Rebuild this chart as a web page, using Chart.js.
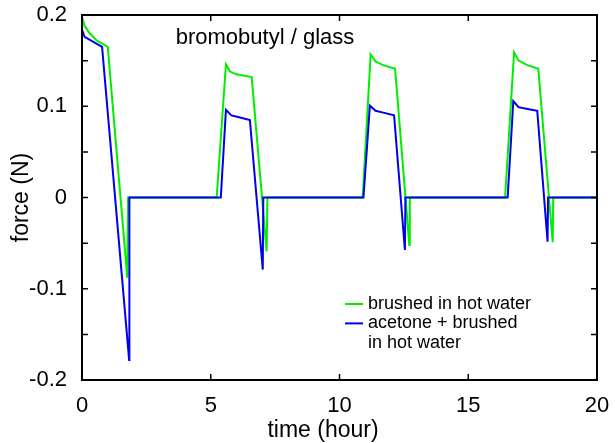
<!DOCTYPE html>
<html>
<head>
<meta charset="utf-8">
<script src="https://cdn.jsdelivr.net/npm/chart.js@4.4.1/dist/chart.umd.min.js"></script>
<style>
    body { margin: 0; background: #fff; }
    #forceChart { display: block; }
</style>
</head>
<body>
<canvas id="forceChart" width="615" height="443"></canvas>
<script>
// Data (time in hours, force in N)
var timeGreen = [0, 0.1, 0.3, 0.57, 1.0, 1.76, 1.79, 5.23, 5.59, 5.75, 6.0, 6.59, 7.17, 7.2,
    10.9, 11.21, 11.4, 11.7, 12.16, 12.71, 12.73, 16.43, 16.78, 16.95, 17.3, 17.72, 18.28, 18.3, 20];
var forceGreen = [0.198, 0.188, 0.18, 0.172, 0.165, -0.088, 0, 0, 0.146, 0.138, 0.135, 0.132, -0.059, 0,
    0, 0.157, 0.149, 0.145, 0.141, -0.052, 0, 0, 0.159, 0.15, 0.145, 0.141, -0.049, 0, 0];

var timeBlue = [0, 0.1, 0.78, 1.83, 1.84, 5.39, 5.59, 5.8, 6.1, 6.52, 7.02, 7.04,
    10.93, 11.18, 11.4, 11.7, 12.12, 12.54, 12.56, 16.53, 16.75, 16.95, 17.3, 17.68, 18.08, 18.1, 20];
var forceBlue = [0.184, 0.176, 0.165, -0.178, 0, 0, 0.096, 0.09, 0.088, 0.085, -0.079, 0,
    0, 0.1006, 0.095, 0.093, 0.09, -0.0575, 0, 0, 0.1057, 0.099, 0.097, 0.095, -0.0484, 0, 0];

var seriesLabels = [["brushed in hot water"], ["acetone + brushed", "in hot water"]];
var chartTitle = "bromobutyl / glass";
var xTitle = "time (hour)";
var yTitle = "force (N)";

var fontFamily = "'Liberation Sans', Arial, Helvetica, sans-serif";

var toPoints = function (xs, ys) {
    return xs.map(function (x, i) {
        return { x: x, y: ys[i] };
    });
};

// Frame, inward ticks, inner title, x title and legend
var framePlugin = {
    id: "frame",
    afterDraw: function (chart) {
        var ctx = chart.ctx;
        var area = chart.chartArea;
        var xScale = chart.scales.x;
        var yScale = chart.scales.y;
        var tick = 6;
        ctx.save();
        ctx.strokeStyle = "#000";
        ctx.lineWidth = 2;
        ctx.strokeRect(area.left, area.top, area.right - area.left, area.bottom - area.top);
        ctx.lineWidth = 1.5;
        ctx.beginPath();
        xScale.ticks.forEach(function (t) {
            var px = xScale.getPixelForValue(t.value);
            ctx.moveTo(px, area.bottom);
            ctx.lineTo(px, area.bottom - tick);
            ctx.moveTo(px, area.top);
            ctx.lineTo(px, area.top + tick);
        });
        yScale.ticks.forEach(function (t) {
            var py = yScale.getPixelForValue(t.value);
            ctx.moveTo(area.left, py);
            ctx.lineTo(area.left + tick, py);
            ctx.moveTo(area.right, py);
            ctx.lineTo(area.right - tick, py);
        });
        ctx.stroke();

        // title inside the plot
        ctx.fillStyle = "#000";
        ctx.font = "22px " + fontFamily;
        ctx.textAlign = "center";
        ctx.textBaseline = "middle";
        ctx.fillText(chartTitle, 265, 38);

        // x axis title (sits a bit left of centre in the original)
        ctx.font = "23px " + fontFamily;
        ctx.fillText(xTitle, 323, 431);

        // legend
        ctx.font = "18px " + fontFamily;
        ctx.textAlign = "left";
        var lineY = 304;
        chart.data.datasets.forEach(function (ds, i) {
            ctx.strokeStyle = ds.borderColor;
            ctx.lineWidth = 2;
            ctx.beginPath();
            ctx.moveTo(345, lineY);
            ctx.lineTo(363, lineY);
            ctx.stroke();
            seriesLabels[i].forEach(function (txt) {
                ctx.fillText(txt, 368, lineY);
                lineY += 19.4;
            });
        });
        ctx.restore();
    },
};

var ctx = document.getElementById("forceChart").getContext("2d");
new Chart(ctx, {
    type: "line",
    data: {
        datasets: [
            {
                label: seriesLabels[0].join(" "),
                data: toPoints(timeGreen, forceGreen),
                borderColor: "#00ee00",
                borderWidth: 2,
                pointRadius: 0,
                tension: 0,
                order: 1,
            },
            {
                label: seriesLabels[1].join(" "),
                data: toPoints(timeBlue, forceBlue),
                borderColor: "#0000ee",
                borderWidth: 2,
                pointRadius: 0,
                tension: 0,
                order: 0,
            },
        ],
    },
    options: {
        responsive: false,
        animation: false,
        devicePixelRatio: 1,
        layout: {
            padding: { top: 15, right: 18, left: 0, bottom: 0 },
        },
        plugins: {
            legend: { display: false },
            tooltip: { enabled: false },
        },
        scales: {
            x: {
                type: "linear",
                min: 0,
                max: 20,
                grid: { display: false, drawTicks: false },
                border: { display: false },
                ticks: {
                    stepSize: 5,
                    color: "#000",
                    padding: 13,
                    maxRotation: 0,
                    font: { family: fontFamily, size: 22 },
                },
                afterFit: function (scale) {
                    scale.height = 63;
                    scale.paddingLeft = 0;
                    scale.paddingRight = 0;
                },
            },
            y: {
                min: -0.2,
                max: 0.2,
                grid: { display: false, drawTicks: false },
                border: { display: false },
                ticks: {
                    stepSize: 0.05,
                    color: "#000",
                    padding: 15,
                    font: { family: fontFamily, size: 22 },
                    callback: function (value) {
                        var n = Math.round(value * 20);
                        if (n % 2 !== 0) return "";
                        return String(parseFloat(value.toFixed(1)));
                    },
                },
                title: {
                    display: true,
                    text: yTitle,
                    color: "#000",
                    padding: { top: 8, bottom: 0 },
                    font: { family: fontFamily, size: 23 },
                },
                afterFit: function (scale) {
                    scale.width = 82;
                    scale.paddingTop = 0;
                    scale.paddingBottom = 0;
                },
            },
        },
    },
    plugins: [framePlugin],
});
</script>
</body>
</html>
